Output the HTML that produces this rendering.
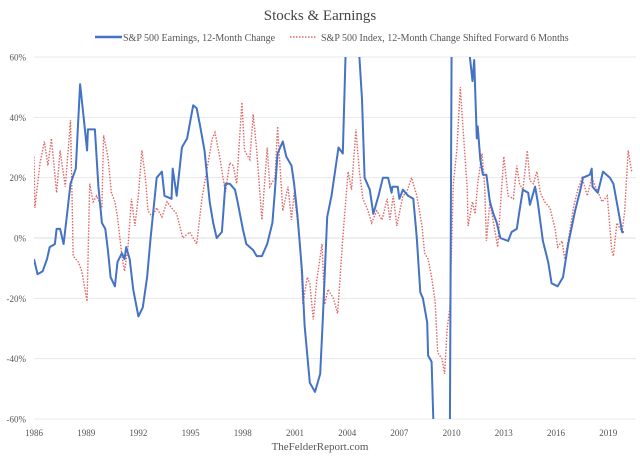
<!DOCTYPE html>
<html><head><meta charset="utf-8"><style>
html,body{margin:0;background:#fff;width:640px;height:463px;overflow:hidden;}
svg{display:block;font-family:"Liberation Serif",serif;}
</style></head><body>
<svg id="chart" width="640" height="463" viewBox="0 0 640 463">
<text x="320" y="20" text-anchor="middle" font-size="15" fill="#444">Stocks &amp; Earnings</text>
<g>
<line x1="95" y1="37" x2="122" y2="37" stroke="#4472C4" stroke-width="2.5"/>
<text x="123" y="41" font-size="10" fill="#555">S&amp;P 500 Earnings, 12-Month Change</text>
<line x1="290" y1="37" x2="316" y2="37" stroke="#E06666" stroke-width="1.5" stroke-dasharray="1.5 1.5"/>
<text x="321" y="41" font-size="10" fill="#555">S&amp;P 500 Index, 12-Month Change Shifted Forward 6 Months</text>
</g>
<g id="grid"></g><g id="ylab"></g><g id="xlab"></g>
<defs><clipPath id="pc"><rect x="34" y="57" width="602" height="362"/></clipPath></defs>
<g clip-path="url(#pc)" id="series"></g>
<text x="320" y="450" text-anchor="middle" font-size="11" fill="#555">TheFelderReport.com</text>
</svg>
<script>
const yTicks=[60,40,20,0,-20,-40,-60];
const xTickYears=[1986,1989,1992,1995,1998,2001,2004,2007,2010,2013,2016,2019];
const earnDates=[1986.0,1986.2,1986.5,1986.75,1986.9,1987.2,1987.3,1987.5,1987.7,1987.9,1988.1,1988.4,1988.65,1988.8,1989.05,1989.1,1989.5,1989.7,1989.9,1990.1,1990.25,1990.4,1990.65,1990.8,1991.05,1991.2,1991.3,1991.5,1991.7,1992.0,1992.25,1992.5,1992.7,1993.05,1993.35,1993.5,1993.9,1993.97,1994.2,1994.5,1994.8,1995.15,1995.35,1995.55,1995.8,1996.1,1996.3,1996.5,1996.8,1997.0,1997.25,1997.55,1997.7,1998.0,1998.2,1998.6,1998.8,1999.1,1999.4,1999.7,1999.85,2000.0,2000.3,2000.5,2000.8,2000.95,2001.15,2001.4,2001.55,2001.85,2002.15,2002.45,2002.6,2002.85,2003.1,2003.5,2003.75,2003.9,2004.0,2004.6,2004.7,2004.85,2005.0,2005.3,2005.5,2005.8,2006.05,2006.35,2006.55,2006.6,2006.9,2007.0,2007.2,2007.5,2007.8,2008.0,2008.2,2008.35,2008.6,2008.65,2008.85,2008.95,2009.05,2009.9,2010.0,2010.95,2011.05,2011.2,2011.3,2011.45,2011.5,2011.65,2011.8,2012.0,2012.2,2012.4,2012.6,2012.8,2013.25,2013.45,2013.75,2013.9,2014.1,2014.4,2014.5,2014.8,2014.95,2015.25,2015.55,2015.75,2016.1,2016.4,2016.7,2017.1,2017.4,2017.55,2017.95,2018.05,2018.1,2018.4,2018.7,2019.1,2019.3,2019.55,2019.8,2019.9];
const earnValues=[-7,-12,-11,-7,-3,-2,3,3,-2,8,18,23,51,43,29,36,36,17,5,3,-4,-13,-16,-8,-5,-7,-3,-7,-17,-26,-23,-13,0,20,22,14,13,23,14,30,33,44,43,37,29,12,5,0,2,18,18,16,12,3,-2,-4,-6,-6,-2,5,16,28,32,27,24,18,7,-11,-29,-48,-51,-45,-27,7,14,30,28,60,120,120,60,46,20,16,8,14,20,20,15,17,17,13,16,14,13,0,-18,-20,-28,-39,-41,-60,-120,-120,120,120,60,52,59,33,37,26,21,21,12,8,5,0,-1,2,3,9,16,15,11,17,12,-1,-8,-15,-16,-13,-2,9,16,20,21,23,17,15,22,20,18,10,2,2];
const idxDates=[1986.0,1986.05,1986.35,1986.6,1986.8,1987.0,1987.3,1987.5,1987.8,1988.1,1988.25,1988.55,1988.75,1989.05,1989.2,1989.4,1989.6,1989.9,1990.0,1990.25,1990.45,1990.65,1990.8,1991.05,1991.2,1991.4,1991.6,1991.8,1992.0,1992.2,1992.4,1992.55,1992.8,1993.05,1993.35,1993.65,1993.9,1994.2,1994.55,1994.95,1995.35,1995.65,1995.95,1996.25,1996.4,1996.7,1997.0,1997.25,1997.45,1997.65,1997.95,1998.1,1998.4,1998.6,1998.8,1999.1,1999.4,1999.55,1999.85,2000.0,2000.3,2000.6,2000.8,2000.95,2001.3,2001.45,2001.7,2001.85,2002.05,2002.25,2002.55,2002.7,2002.9,2003.2,2003.45,2003.75,2004.05,2004.25,2004.5,2004.7,2004.9,2005.2,2005.4,2005.7,2006.0,2006.3,2006.45,2006.65,2006.85,2007.2,2007.4,2007.7,2008.0,2008.3,2008.45,2008.65,2008.85,2009.05,2009.2,2009.45,2009.6,2009.75,2009.9,2010.1,2010.3,2010.5,2010.65,2010.9,2010.95,2011.2,2011.35,2011.5,2011.75,2011.9,2012.0,2012.2,2012.5,2012.65,2013.0,2013.25,2013.55,2013.75,2013.9,2014.1,2014.35,2014.5,2014.7,2014.9,2015.1,2015.35,2015.65,2015.95,2016.1,2016.35,2016.5,2016.7,2017.0,2017.25,2017.5,2017.8,2018.05,2018.35,2018.65,2018.95,2019.2,2019.3,2019.5,2019.8,2019.95,2020.15,2020.35];
const idxValues=[27,10,25,32,24,33,15,29,17,39,-6,-8,-11,-21,18,12,14,10,34,27,15,12,7,-6,-11,-3,13,4,14,29,20,9,7,10,7,12,10,8,0,2,-2,13,23,33,35,26,15,25,24,18,45,29,26,41,29,6,30,17,20,37,9,17,6,15,-2,-22,-13,-15,-27,-14,-2,-22,-17,-20,-25,0,22,16,36,22,13,9,5,9,6,13,6,14,4,14,15,20,14,4,-5,-7,-13,-21,-38,-40,-45,-30,-23,18,29,50,37,16,4,12,8,18,28,17,-1,12,2,-3,27,14,13,24,18,16,29,19,18,22,15,12,10,3,-3,-1,-7,-1,10,16,20,14,20,16,12,14,-4,-6,5,2,9,29,22];
const NS='http://www.w3.org/2000/svg';
const X0=34,X1=636,Y0=57,Y1=419;
function xs(d){return X0+(d-1986)*17.4;}
function ys(v){return Y0+(60-v)*(Y1-Y0)/120;}
function clampV(v){return Math.max(-63,Math.min(63,v));}
const grid=document.getElementById('grid'),yl=document.getElementById('ylab'),xl=document.getElementById('xlab');
yTicks.forEach(t=>{
 const l=document.createElementNS(NS,'line');
 
 
 l.setAttribute('x1',X0);l.setAttribute('x2',X1);l.setAttribute('y1',ys(t));l.setAttribute('y2',ys(t));
 l.setAttribute('stroke',t===0?'#ddd':'#e8e8e8');l.setAttribute('stroke-width','1');
 grid.appendChild(l);
 const tx=document.createElementNS(NS,'text');
 
 
 tx.setAttribute('x',26);tx.setAttribute('y',ys(t)+3.5);tx.setAttribute('text-anchor','end');
 tx.setAttribute('font-size','9');tx.setAttribute('fill','#555');tx.textContent=t+'%';
 yl.appendChild(tx);
});
xTickYears.forEach(y=>{
 const tx=document.createElementNS(NS,'text');
 
 
 tx.setAttribute('x',xs(y));tx.setAttribute('y',436);tx.setAttribute('text-anchor','middle');
 tx.setAttribute('font-size','9');tx.setAttribute('fill','#555');tx.textContent=y;
 xl.appendChild(tx);
});
function path(dates,vals){return dates.map((d,i)=>(i?'L':'M')+xs(d).toFixed(1)+' '+ys(clampV(vals[i])).toFixed(1)).join(' ');}
const ser=document.getElementById('series');
const p2=document.createElementNS(NS,'path');


p2.setAttribute('d',path(idxDates,idxValues));p2.setAttribute('fill','none');
p2.setAttribute('stroke','#E06666');p2.setAttribute('stroke-width','1.4');p2.setAttribute('stroke-dasharray','1.5 1.5');
ser.appendChild(p2);
const p1=document.createElementNS(NS,'path');


p1.setAttribute('d',path(earnDates,earnValues));p1.setAttribute('fill','none');
p1.setAttribute('stroke','#4472C4');p1.setAttribute('stroke-width','2');p1.setAttribute('stroke-linejoin','round');
ser.appendChild(p1);
</script>
</body></html>
